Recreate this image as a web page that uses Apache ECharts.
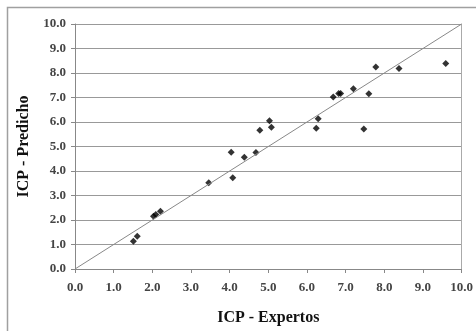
<!DOCTYPE html>
<html>
<head>
<meta charset="utf-8">
<script src="https://cdn.jsdelivr.net/npm/echarts@6/dist/echarts.min.js"></script>
<style>
  html, body { margin: 0; padding: 0; background: #fff; }
  #chart { width: 476px; height: 331px; }
</style>
</head>
<body>
<div id="chart"></div>
<script>
  // ICP expertos vs ICP predicho
  var expertos = [1.51, 1.61, 2.03, 2.09, 2.21, 3.46, 4.04, 4.08, 4.38, 4.68, 4.78, 5.03, 5.08, 6.24, 6.29, 6.68, 6.82, 6.87, 7.20, 7.47, 7.60, 7.78, 8.38, 9.59];
  var predicho = [1.13, 1.34, 2.15, 2.22, 2.36, 3.52, 4.77, 3.72, 4.56, 4.76, 5.66, 6.05, 5.79, 5.74, 6.13, 7.02, 7.16, 7.16, 7.36, 5.71, 7.15, 8.25, 8.18, 8.39];
  var diagLine = [[0, 0], [10, 10]];

  var points = expertos.map(function (v, i) { return [v, predicho[i]]; });

  var serif = '"Liberation Serif", "Times New Roman", serif';
  var myChart = echarts.init(document.getElementById('chart'));
  myChart.setOption({
    animation: false,
    graphic: [{
      type: 'rect',
      shape: { x: 7.5, y: 7.5, width: 480, height: 340 },
      style: { fill: 'none', stroke: '#a0a0a0', lineWidth: 1.5 }
    }],
    grid: {
      left: 75,
      right: 11,
      top: 24,
      bottom: 59
    },
    xAxis: {
      type: 'value',
      min: 0,
      max: 10,
      interval: 1,
      name: 'ICP - Expertos',
      nameLocation: 'middle',
      nameGap: 41,
      nameTextStyle: { fontFamily: serif, fontSize: 16, fontWeight: 'bold', color: '#111' },
      axisLine: { lineStyle: { color: '#888', width: 1 } },
      axisTick: { show: true, length: 4, lineStyle: { color: '#888' } },
      axisLabel: {
        margin: 12,
        fontFamily: serif,
        fontSize: 13,
        fontWeight: 'bold',
        color: '#444',
        formatter: function (v) { return v.toFixed(1); }
      },
      splitLine: { show: false }
    },
    yAxis: [{
      type: 'value',
      min: 0,
      max: 10,
      interval: 1,
      name: 'ICP - Predicho',
      nameLocation: 'middle',
      nameGap: 43,
      nameTextStyle: { fontFamily: serif, fontSize: 16, fontWeight: 'bold', color: '#111' },
      axisLine: { show: true, lineStyle: { color: '#888', width: 1 } },
      axisTick: { show: true, length: 4, lineStyle: { color: '#888' } },
      axisLabel: {
        margin: 9,
        fontFamily: serif,
        fontSize: 13,
        fontWeight: 'bold',
        color: '#444',
        formatter: function (v) { return v.toFixed(1); }
      },
      splitLine: { show: true, lineStyle: { color: '#999', width: 1 } }
    }, {
      type: 'value',
      min: 0,
      max: 10,
      position: 'right',
      axisLine: { show: true, lineStyle: { color: '#aaa', width: 1 } },
      axisTick: { show: false },
      axisLabel: { show: false },
      splitLine: { show: false }
    }],
    series: [
      {
        type: 'line',
        data: diagLine,
        showSymbol: false,
        lineStyle: { color: '#888', width: 1 },
        silent: true
      },
      {
        type: 'scatter',
        data: points,
        symbol: 'diamond',
        symbolSize: 7,
        itemStyle: { color: '#000' }
      }
    ]
  });
</script>
</body>
</html>
